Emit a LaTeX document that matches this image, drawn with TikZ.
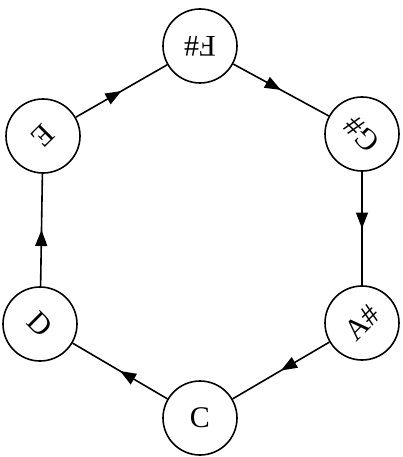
\documentclass[tikz,border=0pt]{standalone}
\usepackage{fontspec}
\setmainfont{Liberation Serif}
\usetikzlibrary{arrows.meta,decorations.markings}
\begin{document}
\begin{tikzpicture}[x=1pt,y=-1pt,
  note/.style={circle,draw,line width=1.6pt,minimum size=74pt,inner sep=0pt,
    font=\fontsize{30}{32}\selectfont},
  link/.style={line width=1.6pt,postaction={decorate},
    decoration={markings,mark=at position 0.5 with {\arrow{Triangle[length=16pt,width=12pt]}}}}]
\useasboundingbox (0,0) rectangle (403,457);
\node[note,rotate=180] (fs) at (200,46) {F\#};
\node[note,rotate=135] (gs) at (362,134) {G\#};
\node[note,rotate=45] (as) at (362,323) {A\#};
\node[note] (c) at (200,418) {C};
\node[note,rotate=-45] (d) at (40,324) {D};
\node[note,rotate=-135] (e) at (43,136) {E};
\draw[link] (e) -- (fs);
\draw[link] (fs) -- (gs);
\draw[link] (gs) -- (as);
\draw[link] (as) -- (c);
\draw[link] (c) -- (d);
\draw[link] (d) -- (e);
\end{tikzpicture}
\end{document}
